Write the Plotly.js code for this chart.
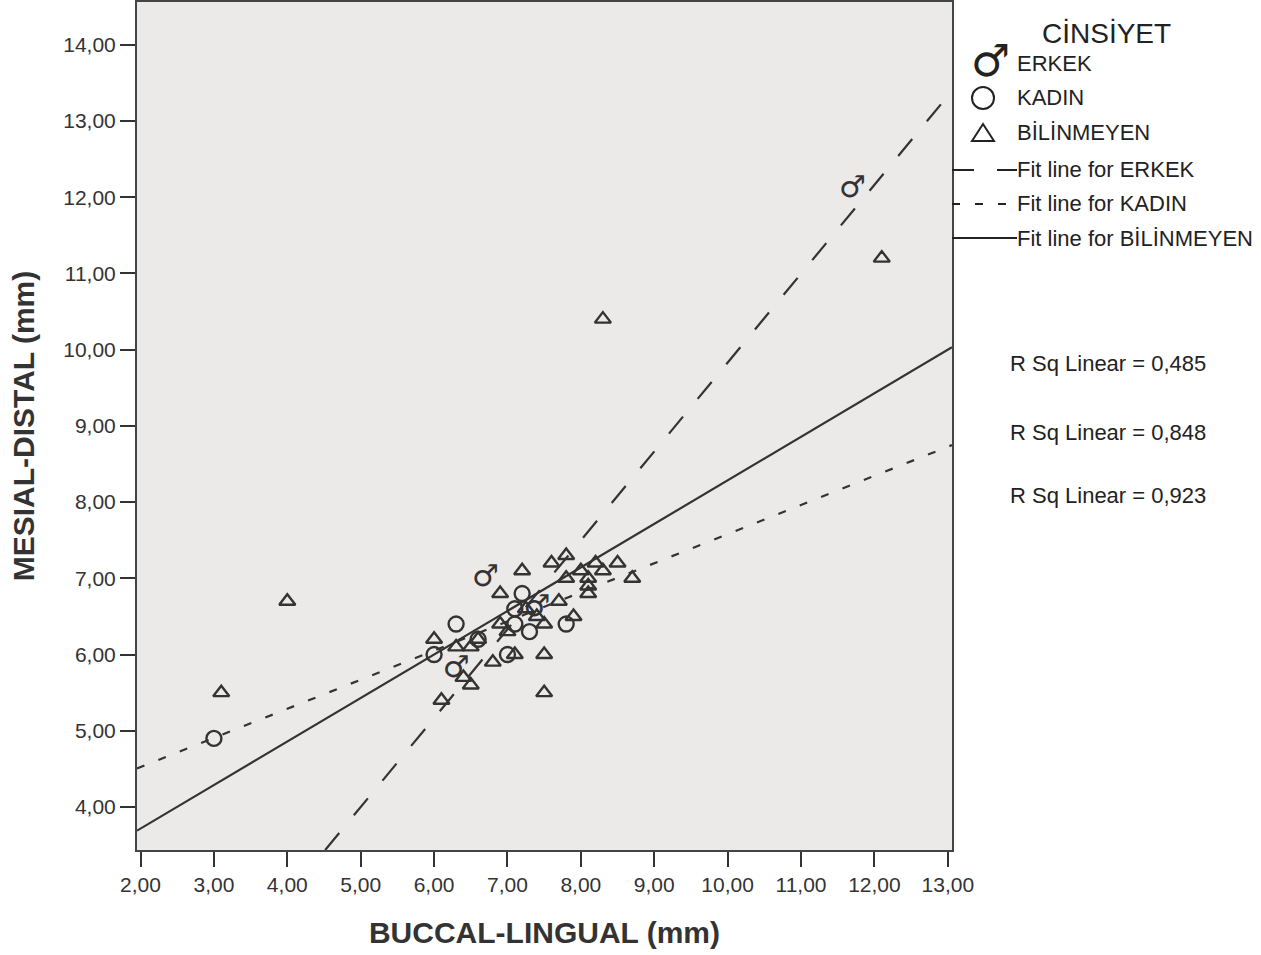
<!DOCTYPE html>
<html>
<head>
<meta charset="utf-8">
<script src="https://cdn.plot.ly/plotly-3.0.1.min.js"></script>
<style>html,body{margin:0;padding:0;background:#fff;}#chart{width:1261px;height:955px;}</style>
</head>
<body>
<div id="chart"></div>
<script>
// ---- data ----
const erkekX = [6.7, 7.4, 6.3, 11.7];
const erkekY = [7.0, 6.6, 5.8, 12.1];
const kadinX = [3.0, 6.0, 6.3, 6.6, 7.0, 7.1, 7.1, 7.2, 7.3, 7.8];
const kadinY = [4.9, 6.0, 6.4, 6.2, 6.0, 6.6, 6.4, 6.8, 6.3, 6.4];
const bilX = [3.1, 4.0, 8.3, 12.1, 6.0, 6.1, 6.3, 6.4, 6.5, 6.5, 6.6, 6.8, 6.9, 6.9, 7.0, 7.1, 7.2, 7.25, 7.4, 7.5, 7.5, 7.5, 7.6, 7.7, 7.8, 7.8, 7.9, 8.0, 8.1, 8.1, 8.1, 8.2, 8.3, 8.5, 8.7];
const bilY = [5.5, 6.7, 10.4, 11.2, 6.2, 5.4, 6.1, 5.7, 6.1, 5.6, 6.2, 5.9, 6.8, 6.4, 6.3, 6.0, 7.1, 6.6, 6.5, 6.4, 6.0, 5.5, 7.2, 6.7, 7.3, 7.0, 6.5, 7.1, 7.0, 6.9, 6.8, 7.2, 7.1, 7.2, 7.0];
const groups = ["ERKEK", "KADIN", "BİLİNMEYEN"];
const fitSlope = [1.166, 0.382, 0.571];
const fitIntercept = [-1.83, 3.76, 2.575];
const rSqLabels = ["R Sq Linear = 0,485", "R Sq Linear = 0,848", "R Sq Linear = 0,923"];
const xRange = [1.952, 13.057];
const yRange = [3.436, 14.56];

// ---- layout helpers (pixel -> paper) ----
const L = 137, R = 952, T = 2, B = 850;
const W = R - L, H = B - T;
const px = v => (v - L) / W;
const py = v => (B - v) / H;
const ink = '#333333';
const fam = 'Liberation Sans, Arial, Helvetica, sans-serif';

const dashes = ['22px,23px', '8px,15px', 'solid'];

const traces = [];
groups.forEach((g, i) => {
  // fit line drawn across the visible x range, starting where it enters the plot
  const m = fitSlope[i], b = fitIntercept[i];
  const x0 = Math.max(xRange[0], (yRange[0] - b) / m);
  const x1 = Math.min(xRange[1], (yRange[1] - b) / m);
  const fx = [x0, x1];
  traces.push({
    x: fx, y: fx.map(x => m * x + b),
    mode: 'lines', line: {color: ink, width: 2.2, dash: dashes[i]},
    hoverinfo: 'skip', showlegend: false
  });
});
traces.push({
  x: bilX, y: bilY, mode: 'markers',
  marker: {symbol: 'triangle-up-open', size: 14, color: ink, line: {width: 2.4, color: ink}},
  showlegend: false
});
traces.push({
  x: kadinX, y: kadinY, mode: 'markers',
  marker: {symbol: 'circle-open', size: 15, color: ink, line: {width: 2.4, color: ink}},
  showlegend: false
});
traces.push({
  x: erkekX, y: erkekY, mode: 'text', text: erkekX.map(() => '♂'),
  textposition: 'middle center',
  textfont: {family: 'DejaVu Sans', size: 30, color: ink, weight: 'bold'},
  showlegend: false
});

const annotations = [];
const shapes = [];
const ann = (text, x, y, size, xanchor, extra) => annotations.push(Object.assign({
  text: text, xref: 'paper', yref: 'paper', x: px(x), y: py(y),
  xanchor: xanchor || 'left', yanchor: 'middle', showarrow: false, borderpad: 0,
  font: {family: fam, size: size, color: '#222'}
}, extra || {}));

ann('CİNSİYET', 1106, 33, 28, 'center');
ann('♂', 990, 60, 44, 'center', {font: {family: 'DejaVu Sans', size: 44, color: '#222'}});
ann(groups[0], 1016, 63, 22);
shapes.push({type: 'circle', xref: 'paper', yref: 'paper', xsizemode: 'pixel', ysizemode: 'pixel',
  xanchor: px(983), yanchor: py(98), x0: -11, x1: 11, y0: -11, y1: 11, line: {color: '#222', width: 2}});
ann(groups[1], 1016, 98, 22);
shapes.push({type: 'path', xref: 'paper', yref: 'paper', xsizemode: 'pixel', ysizemode: 'pixel',
  xanchor: px(983), yanchor: py(133), path: 'M -11,-8 L 11,-8 L 0,9 Z', line: {color: '#222', width: 2}});
ann(groups[2], 1016, 133, 22);
const legY = [170, 204, 238];
groups.forEach((g, i) => {
  shapes.push({type: 'line', xref: 'paper', yref: 'paper', x0: px(952), x1: px(1017), y0: py(legY[i]), y1: py(legY[i]),
    line: {color: '#222', width: 2, dash: dashes[i]}});
  ann('Fit line for ' + g, 1016, legY[i], 22);
});
const rY = [363, 432, 496];
rSqLabels.forEach((t, i) => ann(t, 1108, rY[i], 22, 'center'));

const layout = {
  width: 1261, height: 955,
  margin: {l: L, r: 1261 - R, t: T, b: 955 - B},
  paper_bgcolor: '#ffffff', plot_bgcolor: '#ebeae8',
  separators: ',.',
  font: {family: fam, size: 21, color: ink},
  showlegend: false,
  xaxis: {
    range: xRange, tickvals: [2,3,4,5,6,7,8,9,10,11,12,13], tickformat: '.2f',
    showgrid: false, zeroline: false, showline: true, mirror: true, linecolor: '#444', linewidth: 2,
    ticks: 'outside', ticklen: 15, tickwidth: 2, tickcolor: ink,
    tickfont: {family: fam, size: 21, color: ink},
    title: {text: '<b>BUCCAL-LINGUAL (mm)</b>', font: {family: fam, size: 30, color: ink}, standoff: 27}
  },
  yaxis: {
    range: yRange, tickvals: [4,5,6,7,8,9,10,11,12,13,14], tickformat: '.2f',
    showgrid: false, zeroline: false, showline: true, mirror: true, linecolor: '#444', linewidth: 2,
    ticks: 'outside', ticklen: 15, tickwidth: 2, tickcolor: ink,
    tickfont: {family: fam, size: 21, color: ink},
    title: {text: '<b>MESIAL-DISTAL (mm)</b>', font: {family: fam, size: 30, color: ink}, standoff: 20}
  },
  annotations: annotations,
  shapes: shapes
};
Plotly.newPlot('chart', traces, layout, {displayModeBar: false, staticPlot: true});
</script>
</body>
</html>
